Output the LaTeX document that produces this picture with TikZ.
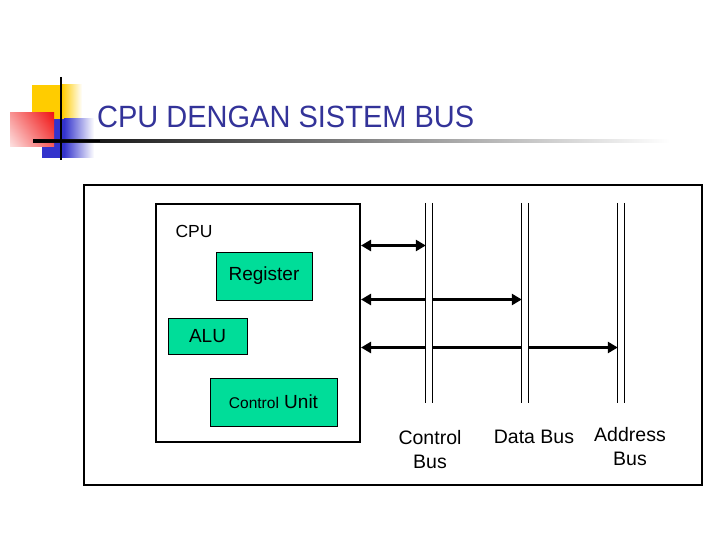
\documentclass[tikz,border=0pt]{standalone}
\usepackage{fontspec}
\setmainfont{Liberation Sans}
\usetikzlibrary{arrows.meta,shadings}
\definecolor{titleblue}{RGB}{51,51,153}
\definecolor{boxgreen}{RGB}{0,221,153}
\definecolor{decoyellow}{RGB}{255,204,0}
\definecolor{decored}{RGB}{240,20,20}
\definecolor{decoblue}{RGB}{51,51,204}
\tikzset{
  frame/.style={draw=black, line width=2.2pt, fill=none, inner sep=0pt},
  greenbox/.style={draw=black, line width=0.9pt, fill=boxgreen, inner sep=0pt, font=\fontsize{19}{22}\selectfont},
  busbox/.style={fill=white, draw=none, inner sep=0pt, minimum width=6pt, minimum height=200pt},
  busline/.style={draw=black, line width=1.2pt},
  biarrow/.style={line width=3.6pt, {Triangle[length=10pt,width=11pt]}-{Triangle[length=10pt,width=11pt]}, shorten <=0pt, shorten >=0pt},
  lbl/.style={font=\fontsize{19.5}{24}\selectfont, align=center, inner sep=0pt},
}
\begin{document}
\begin{tikzpicture}[x=1pt,y=-1pt]
\useasboundingbox (0,0) rectangle (720,540);
\fill[white] (0,0) rectangle (720,540);
% decoration
\fill[decoyellow] (32,85) rectangle (62,120);
\shade[left color=decoyellow, right color=white] (62,85) rectangle (82,120);
\fill[decoblue] (42,119) rectangle (64,158);
\shade[left color=decoblue, right color=white] (64,119) rectangle (94,158);
\shade[upper right=decored, lower right=decored!70!white, upper left=decored!45!white, lower left=decored!12!white] (10,113) rectangle (54,147);
\shade[left color=black, right color=white] (33,139.8) rectangle (670,142.2);
\fill[black] (33,139.8) rectangle (100,142.2);
\draw[line width=2pt] (61,77) -- (61,160);
% title
\node[anchor=west, inner sep=0pt, text=titleblue, font=\fontsize{29}{34}\selectfont] (title) at (97,117) {\scalebox{1}[1.06]{CPU DENGAN SISTEM BUS}};
% boxes
\node[frame, minimum width=618pt, minimum height=300pt] (outer) at (393,335) {};
\node[frame, line width=2pt, minimum width=204pt, minimum height=238pt] (cpu) at (258,323) {};
\node[inner sep=0pt, font=\fontsize{17.5}{20}\selectfont] (cpulbl) at (194,231) {CPU};
\node[greenbox, minimum width=96pt, minimum height=48pt] (reg) at (264,276) {Register};
\node[greenbox, minimum width=79pt, minimum height=36pt] (alu) at (207.5,336) {ALU};
\node[greenbox, minimum width=127pt, minimum height=48pt] (cu) at (273.5,402) {{\fontsize{15.5}{18}\selectfont Control} Unit};
% arrows
\coordinate (ya) at (0,245.5);
\coordinate (yb) at (0,299.5);
\coordinate (yc) at (0,347.5);
\node[busbox] (cbus) at (429,303) {};
\node[busbox] (dbus) at (525,303) {};
\node[busbox] (abus) at (621,303) {};
\draw[biarrow] (cpu.east |- ya) -- (cbus.west |- ya);
\draw[biarrow] (cpu.east |- yb) -- (dbus.west |- yb);
\draw[biarrow] (cpu.east |- yc) -- (abus.west |- yc);
% buses on top
\node[busbox] at (cbus) {};
\node[busbox] at (dbus) {};
\node[busbox] at (abus) {};
\foreach \b in {cbus,dbus,abus}{
  \draw[busline] (\b.north west) -- (\b.south west);
  \draw[busline] (\b.north east) -- (\b.south east);
}
% labels
\node[lbl] (cbl) at (430,450) {Control\\Bus};
\node[lbl] (dbl) at (534,437) {Data Bus};
\node[lbl] (abl) at (630,447) {Address\\Bus};
\end{tikzpicture}
\end{document}
